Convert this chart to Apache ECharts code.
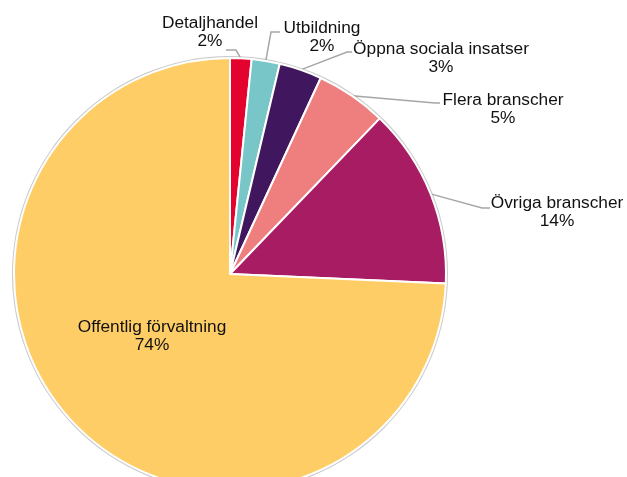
<!DOCTYPE html>
<html>
<head>
<meta charset="utf-8">
<script src="https://cdn.jsdelivr.net/npm/echarts@6/dist/echarts.min.js"></script>
<style>html,body{margin:0;padding:0;background:#fff}#c{width:627px;height:477px}</style>
</head>
<body>
<div id="c"></div>
<script>
const categories = ['Detaljhandel', 'Utbildning', 'Öppna sociala insatser', 'Flera branscher', 'Övriga branscher', 'Offentlig förvaltning'];
const shares = [1.6, 2.1, 3.2, 5.3, 13.5, 74.3];
const colors = ['#E4032E', '#78C6C8', '#40175F', '#EE7F7E', '#A71C63', '#FFCD66'];

// label placement (text centre x, block top y, leader elbow, leader end)
const labelPlace = [
  { x: 210, y: 14, elbow: [236, 50], end: [226, 50] },
  { x: 322, y: 19, elbow: [271, 32], end: [280, 32] },
  { x: 441, y: 40, elbow: [347, 52], end: [352, 52] },
  { x: 503, y: 91, elbow: [435, 103], end: [440, 103] },
  { x: 557, y: 194, elbow: [482, 208], end: [490, 208] },
  { x: 152, y: 318, elbow: null, end: null }
];

const chart = echarts.init(document.getElementById('c'), null, { renderer: 'canvas' });
const R = 216;
chart.setOption({
  backgroundColor: '#fff',
  animation: false,
  series: [
    {
      type: 'pie',
      silent: true,
      center: [230, 274],
      radius: R + 2,
      z: 1,
      label: { show: false },
      labelLine: { show: false },
      itemStyle: { color: '#c9c9c9' },
      data: [{ value: 1, name: '' }]
    },
    {
      type: 'pie',
      center: [230, 274],
      radius: R,
      z: 2,
      startAngle: 90,
      clockwise: true,
      percentPrecision: 0,
      avoidLabelOverlap: false,
      itemStyle: { borderColor: '#fff', borderWidth: 2 },
      label: {
        show: true,
        position: 'outside',
        formatter: '{b}\n{d}%',
        fontFamily: 'Liberation Sans, Arial, sans-serif',
        fontSize: 17.3,
        lineHeight: 18,
        color: '#111',
        align: 'center'
      },
      labelLine: {
        show: true,
        length: 10,
        length2: 10,
        lineStyle: { color: '#a6a6a6', width: 1.5 }
      },
      labelLayout: function (params) {
        const p = labelPlace[params.dataIndex];
        const out = { x: p.x, y: p.y, align: 'center', verticalAlign: 'top' };
        if (p.elbow && params.labelLinePoints) {
          const start = params.labelLinePoints[0];
          out.labelLinePoints = [start, p.elbow, p.end];
        }
        return out;
      },
      data: categories.map((n, i) => ({
        name: n,
        value: shares[i],
        itemStyle: { color: colors[i] },
        labelLine: { show: i < 5 }
      }))
    }
  ]
});
</script>
</body>
</html>
